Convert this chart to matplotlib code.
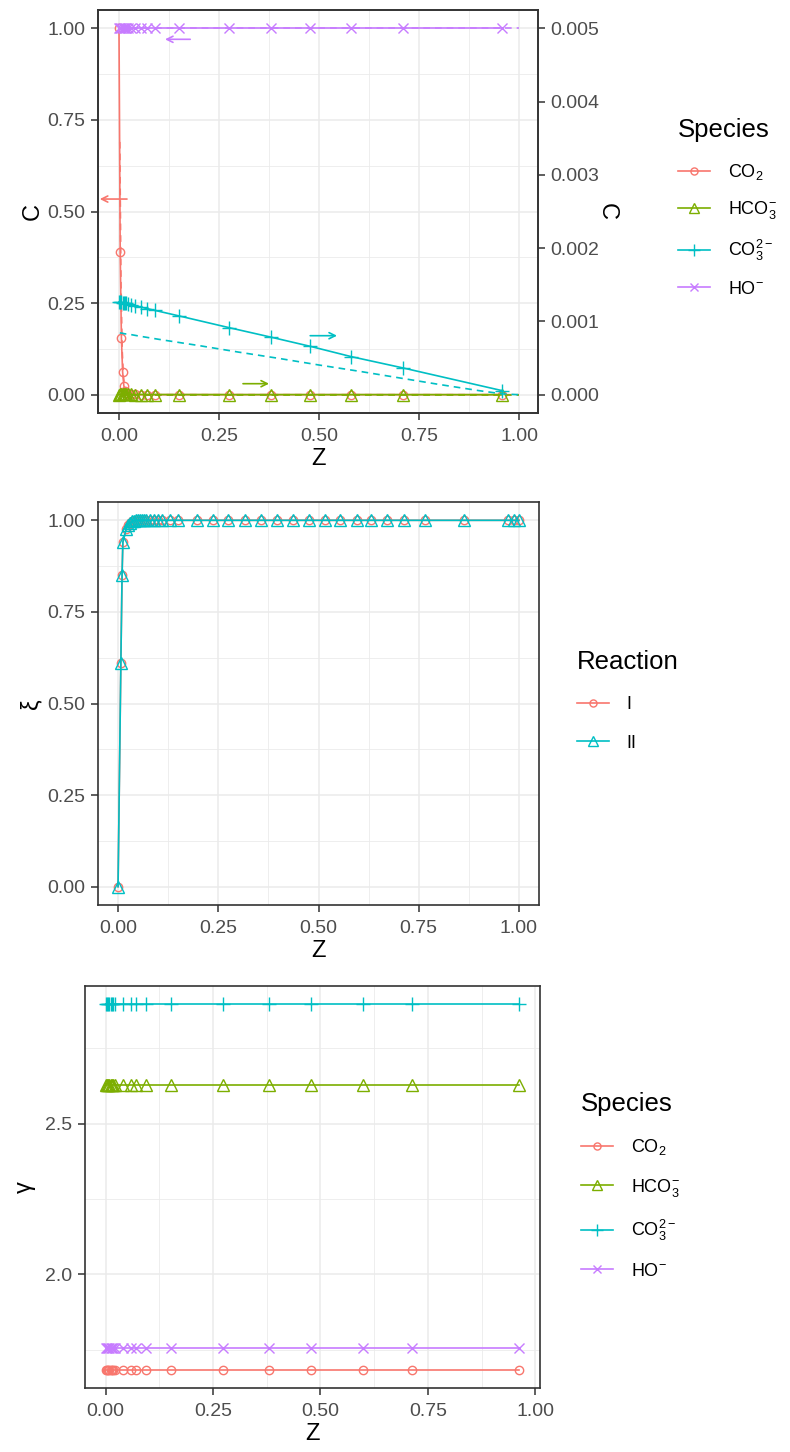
import matplotlib
matplotlib.use('Agg')
import matplotlib.pyplot as plt
from matplotlib.ticker import MultipleLocator, FormatStrFormatter
from matplotlib.lines import Line2D

plt.rcParams['font.family'] = ['Liberation Sans', 'DejaVu Sans']
plt.rcParams['mathtext.fontset'] = 'custom'
plt.rcParams['mathtext.rm'] = 'Liberation Sans'
plt.rcParams['mathtext.it'] = 'Liberation Sans:italic'
plt.rcParams['mathtext.bf'] = 'Liberation Sans:bold'

# ---------------- data ----------------
species_labels = [r'CO$_2$', r'HCO$_3^{-}$', r'CO$_3^{2-}$', r'HO$^{-}$']
species_colors = ['#F8766D', '#7CAE00', '#00BFC4', '#C77CFF']
species_markers = ['o', '^', '+', 'x']

# Panel 1: concentrations along Z (solid, with markers)
z_top = [0.000, 0.003, 0.006, 0.009, 0.012, 0.015, 0.018, 0.022, 0.030, 0.040,
         0.055, 0.070, 0.090, 0.150, 0.275, 0.380, 0.478, 0.580, 0.710, 0.958]
co2_top = [1.000, 0.390, 0.155, 0.063, 0.025, 0.010, 0.004, 0.002, 0.001, 0.0005,
           0.0002, 0.0001, 0.000, 0.000, 0.000, 0.000, 0.000, 0.000, 0.000, 0.000]
hco3_top = [0.000000, 0.000008, 0.000007, 0.000006, 0.000005, 0.000004, 0.000004, 0.000003, 0.000003, 0.000002,
            0.000002, 0.000002, 0.000002, 0.000002, 0.000001, 0.000001, 0.000001, 0.000001, 0.000001, 0.000000]
co3_top = [0.001265, 0.001265, 0.001260, 0.001255, 0.001250, 0.001250, 0.001245, 0.001240, 0.001230, 0.001215,
           0.001195, 0.001175, 0.001150, 0.001075, 0.000915, 0.000785, 0.000660, 0.000520, 0.000365, 0.000055]
ho_top = [1.000, 1.000, 1.000, 1.000, 1.000, 1.000, 1.000, 1.000, 1.000, 1.000,
          1.000, 1.000, 1.000, 1.000, 1.000, 1.000, 1.000, 1.000, 1.000, 1.000]

# Panel 1: second solution (dashed, no markers)
z_dash = [0.002, 0.005, 0.008, 0.011, 0.015, 0.020, 0.030, 0.050, 0.100, 0.200,
          0.300, 0.400, 0.500, 0.600, 0.700, 0.800, 0.900, 0.960, 1.000]
co2_dash = [0.690, 0.300, 0.120, 0.050, 0.015, 0.004, 0.001, 0.000, 0.000, 0.000,
            0.000, 0.000, 0.000, 0.000, 0.000, 0.000, 0.000, 0.000, 0.000]
hco3_dash = [0.0, 0.0, 0.0, 0.0, 0.0, 0.0, 0.0, 0.0, 0.0, 0.0,
             0.0, 0.0, 0.0, 0.0, 0.0, 0.0, 0.0, 0.0, 0.0]
co3_dash = [0.000845, 0.000840, 0.000840, 0.000835, 0.000830, 0.000830, 0.000820, 0.000800, 0.000755, 0.000670,
            0.000580, 0.000495, 0.000405, 0.000320, 0.000230, 0.000140, 0.000055, 0.000010, 0.000000]
ho_dash = [1.0, 1.0, 1.0, 1.0, 1.0, 1.0, 1.0, 1.0, 1.0, 1.0,
           1.0, 1.0, 1.0, 1.0, 1.0, 1.0, 1.0, 1.0, 1.0]

sec_factor = 0.005  # right axis = left axis * 0.005

# axis indicator arrows (x start, x end, y in left-axis units)
arrow_x0 = [0.020, 0.178, 0.478, 0.310]
arrow_x1 = [-0.048, 0.115, 0.545, 0.375]
arrow_y = [0.534, 0.970, 0.161, 0.030]

# Panel 2: extent of reaction
reaction_labels = ['I', 'II']
reaction_colors = ['#F8766D', '#00BFC4']
reaction_markers = ['o', '^']
z_xi = [0.000, 0.007, 0.010, 0.012, 0.020, 0.025, 0.030, 0.035, 0.040, 0.045,
        0.050, 0.055, 0.060, 0.065, 0.070, 0.080, 0.090, 0.100, 0.110, 0.130,
        0.150, 0.197, 0.237, 0.274, 0.317, 0.357, 0.397, 0.436, 0.476, 0.516,
        0.554, 0.596, 0.631, 0.671, 0.713, 0.766, 0.863, 0.973, 0.988, 1.000]
xi_I = [0.000, 0.610, 0.850, 0.940, 0.975, 0.988, 0.994, 0.997, 0.999, 1.000,
        1.000, 1.000, 1.000, 1.000, 1.000, 1.000, 1.000, 1.000, 1.000, 1.000,
        1.000, 1.000, 1.000, 1.000, 1.000, 1.000, 1.000, 1.000, 1.000, 1.000,
        1.000, 1.000, 1.000, 1.000, 1.000, 1.000, 1.000, 1.000, 1.000, 1.000]
xi_II = [0.000, 0.610, 0.850, 0.940, 0.975, 0.988, 0.994, 0.997, 0.999, 1.000,
         1.000, 1.000, 1.000, 1.000, 1.000, 1.000, 1.000, 1.000, 1.000, 1.000,
         1.000, 1.000, 1.000, 1.000, 1.000, 1.000, 1.000, 1.000, 1.000, 1.000,
         1.000, 1.000, 1.000, 1.000, 1.000, 1.000, 1.000, 1.000, 1.000, 1.000]

# Panel 3: activity coefficients
z_gam = [0.000, 0.003, 0.006, 0.009, 0.012, 0.015, 0.018, 0.022, 0.040, 0.058,
         0.070, 0.095, 0.151, 0.274, 0.381, 0.479, 0.598, 0.714, 0.963]
gam_co2 = [1.684, 1.684, 1.684, 1.684, 1.684, 1.684, 1.684, 1.684, 1.684, 1.684,
           1.684, 1.684, 1.684, 1.684, 1.684, 1.684, 1.684, 1.684, 1.684]
gam_hco3 = [2.628, 2.628, 2.628, 2.628, 2.628, 2.628, 2.628, 2.628, 2.628, 2.628,
            2.628, 2.628, 2.628, 2.628, 2.628, 2.628, 2.628, 2.628, 2.628]
gam_co3 = [2.895, 2.895, 2.895, 2.895, 2.895, 2.895, 2.895, 2.895, 2.895, 2.895,
           2.895, 2.895, 2.895, 2.895, 2.895, 2.895, 2.895, 2.895, 2.895]
gam_ho = [1.757, 1.757, 1.757, 1.757, 1.757, 1.757, 1.757, 1.757, 1.757, 1.757,
          1.757, 1.757, 1.757, 1.757, 1.757, 1.757, 1.757, 1.757, 1.757]

# ---------------- figure ----------------
W, H = 790, 1452
fig = plt.figure(figsize=(W / 100, H / 100), dpi=100)

def rect(x0, y0, x1, y1):
    return [x0 / W, 1 - y1 / H, (x1 - x0) / W, (y1 - y0) / H]

GRID = '#EBEBEB'
BORDER = '#333333'
TICKC = '#4D4D4D'
TICK_FS = 14
LAB_FS = 17
LW = 1.2
MS = {'o': 6, '^': 8, '+': 10, 'x': 7.5}

def style(ax, xminor=0.125, ymaj=0.25, ymin=0.125):
    ax.set_facecolor('white')
    for s in ax.spines.values():
        s.set_color(BORDER)
        s.set_linewidth(1.2)
    ax.xaxis.set_major_locator(MultipleLocator(0.25))
    ax.xaxis.set_minor_locator(MultipleLocator(xminor))
    ax.yaxis.set_major_locator(MultipleLocator(ymaj))
    ax.yaxis.set_minor_locator(MultipleLocator(ymin))
    ax.xaxis.set_major_formatter(FormatStrFormatter('%.2f'))
    ax.grid(True, which='major', color=GRID, lw=1.1, zorder=0)
    ax.grid(True, which='minor', color=GRID, lw=0.6, zorder=0)
    ax.set_axisbelow(True)
    ax.tick_params(which='major', length=5, width=1.1, color=BORDER,
                   labelsize=TICK_FS, labelcolor=TICKC, pad=4)
    ax.tick_params(axis='x', which='major', pad=6)
    ax.tick_params(which='minor', length=0)

def add_legend(handles, labels, title, x_left, y_center, spacing, title_sep):
    leg = fig.legend(handles, labels, title=title, loc='center left',
                     bbox_to_anchor=(x_left / W, 1 - y_center / H),
                     bbox_transform=fig.transFigure, frameon=False,
                     fontsize=13, title_fontsize=18.5, handlelength=1.75,
                     handletextpad=1.0, labelspacing=spacing, borderpad=0,
                     borderaxespad=0)
    leg._legend_box.align = 'left'
    leg._legend_box.sep = title_sep
    return leg

def mk_handle(c, m):
    return Line2D([0], [0], color=c, lw=LW, marker=m, ms=MS[m] * 0.85,
                  mfc='none', mec=c, mew=1.0)

# ---- Panel 1 ----
ax1 = fig.add_axes(rect(98, 10, 538, 413))
style(ax1)
ax1.set_xlim(-0.0525, 1.0475)
ax1.set_ylim(-0.05, 1.05)
ax1.yaxis.set_major_formatter(FormatStrFormatter('%.2f'))
ax2 = ax1.twinx()
ax2.set_ylim(-0.05 * sec_factor, 1.05 * sec_factor)
ax2.yaxis.set_major_locator(MultipleLocator(0.001))
ax2.yaxis.set_major_formatter(FormatStrFormatter('%.3f'))
ax2.tick_params(length=5, width=1.1, color=BORDER, labelsize=TICK_FS,
                labelcolor=TICKC, pad=4)
for s in ax2.spines.values():
    s.set_color(BORDER)
    s.set_linewidth(1.2)

left_series = {0: (co2_top, co2_dash), 3: (ho_top, ho_dash)}
right_series = {1: (hco3_top, hco3_dash), 2: (co3_top, co3_dash)}
for i in range(4):
    c, m = species_colors[i], species_markers[i]
    if i in left_series:
        a, (sol, dsh) = ax1, left_series[i]
    else:
        a, (sol, dsh) = ax2, right_series[i]
    a.plot(z_top, sol, color=c, lw=LW, marker=m, ms=MS[m], mfc='none', mec=c,
           mew=1.0, zorder=3)
    a.plot(z_dash, dsh, color=c, lw=LW, ls=(0, (4, 3)), zorder=3)

for x0, x1, y, c in zip(arrow_x0, arrow_x1, arrow_y,
                        [species_colors[0], species_colors[3], species_colors[2], species_colors[1]]):
    ax1.annotate('', xy=(x1, y), xytext=(x0, y),
                 arrowprops=dict(arrowstyle='->', color=c, lw=1.2,
                                 mutation_scale=11, shrinkA=0, shrinkB=0))

ax1.set_xlabel('Z', fontsize=LAB_FS, labelpad=2)
ax1.set_ylabel('C', fontsize=LAB_FS, labelpad=3)
ax2.set_ylabel('C', fontsize=LAB_FS, rotation=270, labelpad=13)

add_legend([mk_handle(c, m) for c, m in zip(species_colors, species_markers)],
           species_labels, 'Species', 678, 208, 0.95, 14)

# ---- Panel 2 ----
ax3 = fig.add_axes(rect(98, 502, 539, 905))
style(ax3)
ax3.set_xlim(-0.05, 1.05)
ax3.set_ylim(-0.05, 1.05)
ax3.yaxis.set_major_formatter(FormatStrFormatter('%.2f'))
for vals, c, m in zip([xi_I, xi_II], reaction_colors, reaction_markers):
    ax3.plot(z_xi, vals, color=c, lw=LW, marker=m, ms=MS[m], mfc='none',
             mec=c, mew=1.0, zorder=3)
ax3.set_xlabel('Z', fontsize=LAB_FS, labelpad=2)
ax3.set_ylabel('ξ', fontsize=LAB_FS, labelpad=4)
add_legend([mk_handle(c, m) for c, m in zip(reaction_colors, reaction_markers)],
           reaction_labels, 'Reaction', 577, 701, 1.18, 16)

# ---- Panel 3 ----
ax4 = fig.add_axes(rect(85, 986, 540, 1388))
style(ax4, ymaj=0.5, ymin=0.25)
ax4.set_xlim(-0.048, 1.011)
ax4.set_ylim(1.623, 2.956)
ax4.yaxis.set_major_formatter(FormatStrFormatter('%.1f'))
for vals, c, m in zip([gam_co2, gam_hco3, gam_co3, gam_ho], species_colors, species_markers):
    ax4.plot(z_gam, vals, color=c, lw=LW, marker=m, ms=MS[m], mfc='none',
             mec=c, mew=1.0, zorder=3)
ax4.set_xlabel('Z', fontsize=LAB_FS, labelpad=2)
ax4.set_ylabel('γ', fontsize=LAB_FS, labelpad=7)
add_legend([mk_handle(c, m) for c, m in zip(species_colors, species_markers)],
           species_labels, 'Species', 581, 1186, 1.08, 15)

fig.savefig('out.png', dpi=100, facecolor='white')
